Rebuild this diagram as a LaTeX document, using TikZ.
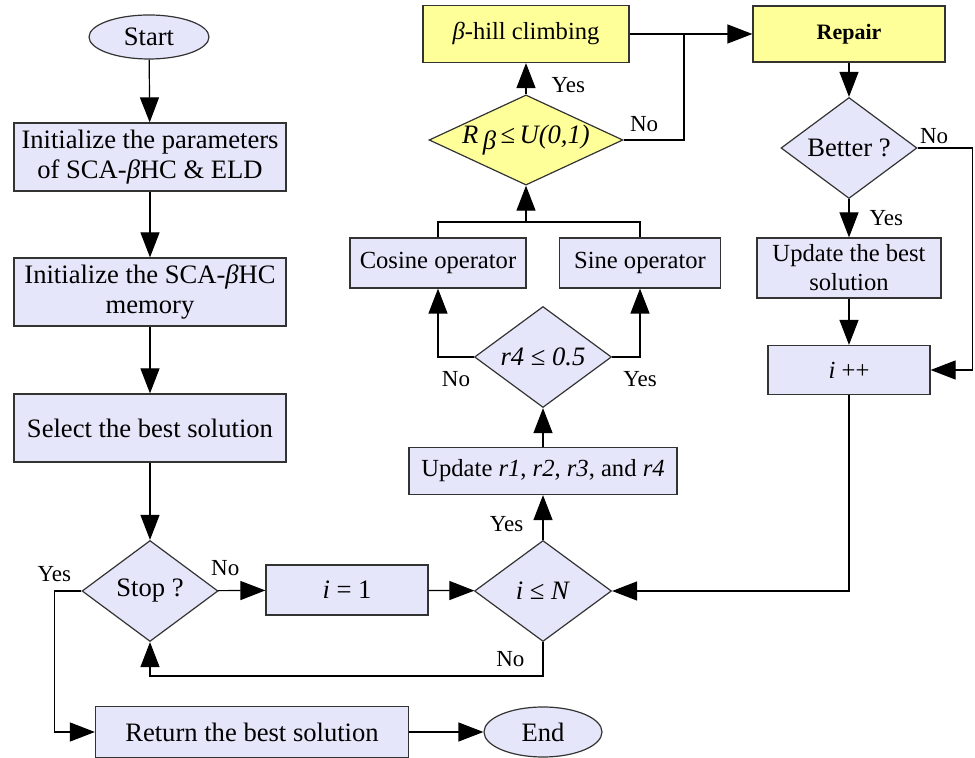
\documentclass[tikz,border=0pt]{standalone}
\usepackage{fontspec}
\setmainfont{Liberation Serif}
\usetikzlibrary{arrows.meta,shapes.geometric}
\definecolor{lav}{HTML}{E6E6FA}
\definecolor{lemon}{HTML}{FFFF99}
\tikzset{arr/.style={-{Triangle[length=12.5pt,width=9.5pt]},line width=0.6pt},
wire/.style={line width=0.6pt},
box/.style={draw=black!80,fill=lav,line width=0.6pt,inner sep=2pt,align=center,font=\fontsize{13.3}{15}\selectfont},
midbox/.style={box,font=\fontsize{12.3}{14.5}\selectfont},
hlbox/.style={midbox,fill=lemon},
dia/.style={box,diamond,aspect=1.35,inner sep=0pt},
term/.style={box,ellipse},
lab/.style={font=\fontsize{11.5}{13}\selectfont,inner sep=2pt}}

\begin{document}
\begin{tikzpicture}[x=0.5pt,y=-0.5pt]
\useasboundingbox (0,0) rectangle (975,758);
\node[term,minimum width=60pt,minimum height=22pt] (start) at (149,37) {Start};
\node[box,minimum width=136pt,minimum height=34pt] (init) at (150,157) {Initialize the parameters\\of SCA-\textit{β}HC \& ELD};
\node[box,minimum width=136pt,minimum height=34pt] (mem) at (150,292) {Initialize the SCA-\textit{β}HC\\memory};
\node[box,minimum width=136pt,minimum height=34pt] (sel) at (150,428) {Select the best solution};
\node[dia,minimum width=68pt,minimum height=50.5pt] (stop) at (150,591) {Stop ?};
\node[box,minimum width=81pt,minimum height=25pt] (ione) at (347,590) {\textit{i} = 1};
\node[dia,minimum width=68.5pt,minimum height=50.5pt] (ileN) at (543,591) {\textit{i} ≤ \textit{N}};
\node[midbox,minimum width=134pt,minimum height=23.5pt] (upd) at (543,471) {Update \textit{r1}, \textit{r2}, \textit{r3}, and \textit{r4}};
\node[dia,minimum width=68.5pt,minimum height=50.5pt] (rfour) at (543,357) {\textit{r4} ≤ \textit{0.5}};
\node[midbox,minimum width=88pt,minimum height=25pt] (cos) at (438,263) {Cosine operator};
\node[midbox,minimum width=80.5pt,minimum height=25pt] (sin) at (640,263) {Sine operator};
\coordinate (mrg) at (526,222);
\node[dia,fill=lemon,aspect=2.15,minimum width=88pt,minimum height=41pt] (rbeta) at (526,140) {\textit{R}\,\raisebox{-0.55ex}{\textit{β}}\,≤\,\textit{U(0,1)}};
\node[hlbox,minimum width=103pt,minimum height=28.5pt] (hc) at (526,34) {\textit{β}-hill climbing};
\node[hlbox,minimum width=96pt,minimum height=28pt,font=\fontsize{11}{13}\selectfont\bfseries] (rep) at (849,34) {Repair};
\coordinate (jn) at (684,34);
\node[dia,minimum width=68pt,minimum height=50.5pt] (bet) at (849,148) {Better ?};
\node[midbox,minimum width=92pt,minimum height=30pt] (ubest) at (849,268) {Update the best\\solution};
\node[midbox,minimum width=81pt,minimum height=24.5pt] (ipp) at (849,370) {\textit{i} ++};
\node[box,minimum width=156.5pt,minimum height=25.5pt] (ret) at (252,732) {Return the best solution};
\node[term,minimum width=59pt,minimum height=25pt] (endn) at (543,732) {End};
\draw[arr] (start) -- (init);
\draw[arr] (init) -- (mem);
\draw[arr] (mem) -- (sel);
\draw[arr] (sel) -- (stop);
\draw[arr] (stop) -- (ione) node[lab,pos=0.15,above=5pt] {No};
\draw[arr] (ione) -- (ileN);
\draw[arr] (ileN) -- (upd) node[lab,pos=0.35,left=7.5pt] {Yes};
\draw[arr] (upd) -- (rfour);
\draw[arr] (rfour.west) -| (cos) node[lab,pos=0.25,below=5pt] {No};
\draw[arr] (rfour.east) -| (sin) node[lab,pos=0.5,below=5pt] {Yes};
\draw[wire] (cos) |- (mrg) -| (sin);
\draw[arr] (mrg) -- (rbeta);
\draw[arr] (rbeta) -- (hc) node[lab,pos=0.3,right=10.5pt] {Yes};
\draw[arr] (hc) -- (rep);
\draw[wire] (rbeta.east) -| (jn) node[lab,pos=0.17,above=2pt] {No};
\draw[arr] (rep) -- (bet);
\draw[arr] (bet) -- (ubest) node[lab,midway,right=8pt] {Yes};
\draw[arr] (bet.east) -- ++(55,0) node[lab,pos=0.3,above] {No} |- (ipp.east);
\draw[arr] (ubest) -- (ipp);
\draw[arr] (ipp) |- (ileN.east);
\draw[arr] (ileN.south) -- ++(0,34) node[lab,midway,left=7pt] {No} -| (stop.south);
\draw[arr] (stop.west) -- ++(-27,0) node[lab,pos=1,above=2.5pt] {Yes} |- (ret.west);
\draw[arr] (ret) -- (endn);
\end{tikzpicture}
\end{document}
